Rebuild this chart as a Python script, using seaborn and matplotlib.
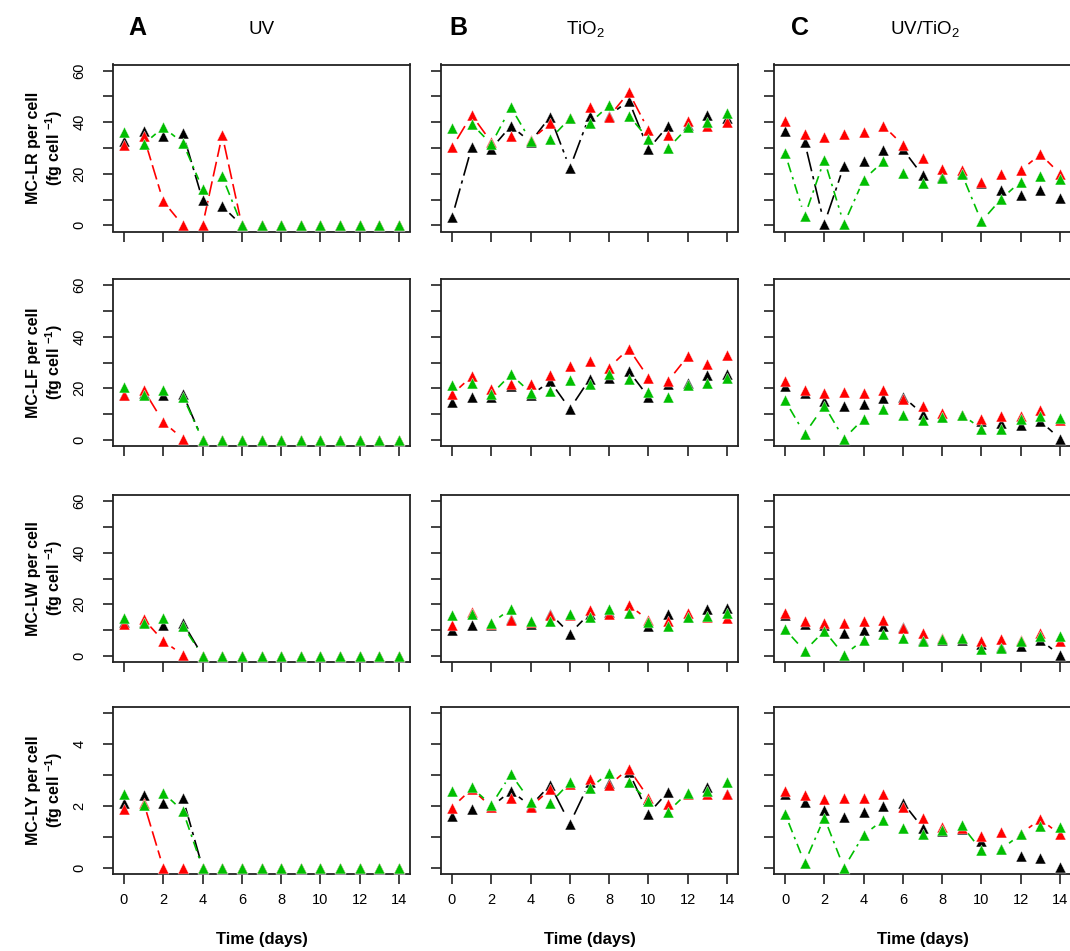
import numpy as np
import matplotlib
matplotlib.use("Agg")
import matplotlib.pyplot as plt
import seaborn as sns
import pandas as pd

# ---------------- data ----------------
days = list(range(15))
treatments = ["UV", "TiO$_2$", "UV/TiO$_2$"]
panel_letters = ["A", "B", "C"]
toxins = ["MC-LR", "MC-LF", "MC-LW", "MC-LY"]

# MC-LR
lr_uv_black = [32.8, 36.6, 34.5, 35.7, 9.9, 7.4, 0, 0, 0, 0, 0, 0, 0, 0, 0]
lr_uv_red = [31.0, 34.5, 9.3, 0, 0, 35.0, 0, 0, 0, 0, 0, 0, 0, 0, 0]
lr_uv_green = [36.4, 31.5, 38.0, 32.0, 14.2, 19.0, 0, 0, 0, 0, 0, 0, 0, 0, 0]
lr_tio2_black = [3.1, 30.2, 29.7, 38.6, 32.3, 42.2, 22.2, 42.5, 42.6, 48.4, 29.5, 38.7, 39.0, 42.8, 41.5]
lr_tio2_red = [30.2, 42.8, 32.3, 34.7, 33.0, 39.6, 41.5, 45.8, 42.2, 51.6, 37.0, 35.0, 40.3, 38.7, 40.0]
lr_tio2_green = [37.7, 39.4, 31.5, 45.8, 32.8, 33.5, 41.5, 39.6, 46.5, 42.6, 33.5, 29.9, 38.0, 39.9, 43.5]
lr_uvtio2_black = [36.6, 32.3, 0.6, 23.1, 24.8, 29.3, 29.5, 19.4, 18.6, 20.3, 16.4, 13.8, 11.9, 13.8, 10.6]
lr_uvtio2_red = [40.6, 35.4, 34.1, 35.5, 36.1, 38.7, 31.2, 26.1, 21.9, 21.3, 16.8, 20.0, 21.3, 27.6, 20.0]
lr_uvtio2_green = [28.0, 3.5, 25.4, 0.5, 17.7, 24.8, 20.3, 16.6, 18.3, 20.0, 1.5, 10.2, 17.0, 19.0, 17.9]

# MC-LF
lf_uv_black = [17.5, 18.0, 17.2, 17.7, 0, 0, 0, 0, 0, 0, 0, 0, 0, 0, 0]
lf_uv_red = [17.5, 19.4, 6.9, 0.4, 0, 0, 0, 0, 0, 0, 0, 0, 0, 0, 0]
lf_uv_green = [20.5, 17.2, 19.4, 16.8, 0, 0, 0, 0, 0, 0, 0, 0, 0, 0, 0]
lf_tio2_black = [14.6, 16.8, 16.6, 21.0, 17.2, 22.7, 12.0, 23.5, 24.1, 26.7, 16.6, 21.5, 22.0, 25.0, 25.4]
lf_tio2_red = [17.6, 24.6, 19.8, 21.5, 21.5, 25.0, 28.5, 30.6, 28.0, 35.4, 24.1, 22.8, 32.4, 29.5, 33.0]
lf_tio2_green = [21.1, 22.0, 17.6, 25.4, 18.3, 18.9, 23.1, 21.5, 25.7, 23.7, 18.5, 16.6, 21.1, 22.0, 24.0]
lf_uvtio2_black = [20.7, 18.1, 15.0, 13.3, 14.0, 16.2, 16.8, 10.1, 8.8, 9.8, 7.3, 6.5, 5.6, 7.3, 0.4]
lf_uvtio2_red = [22.7, 19.2, 18.1, 18.5, 18.3, 19.4, 15.9, 13.0, 10.4, 9.8, 8.2, 9.2, 9.1, 11.7, 7.5]
lf_uvtio2_green = [15.3, 2.3, 13.3, 0.4, 8.2, 12.0, 9.5, 7.8, 8.8, 9.8, 4.3, 4.3, 8.2, 9.2, 8.6]

# MC-LW
lw_uv_black = [13.0, 13.0, 11.9, 12.9, 0, 0, 0, 0, 0, 0, 0, 0, 0, 0, 0]
lw_uv_red = [12.3, 14.2, 5.8, 0.3, 0, 0, 0, 0, 0, 0, 0, 0, 0, 0, 0]
lw_uv_green = [14.8, 12.6, 14.5, 11.6, 0, 0, 0, 0, 0, 0, 0, 0, 0, 0, 0]
lw_tio2_black = [10.1, 11.9, 11.9, 14.2, 12.5, 16.4, 8.6, 16.4, 17.0, 16.5, 11.6, 16.1, 15.0, 18.3, 18.5]
lw_tio2_red = [11.9, 17.0, 12.5, 13.9, 13.0, 15.9, 16.0, 17.8, 16.4, 19.7, 13.9, 13.5, 16.5, 15.2, 14.6]
lw_tio2_green = [15.7, 16.1, 12.6, 18.3, 13.5, 13.5, 16.4, 15.1, 18.1, 16.5, 13.2, 11.6, 15.1, 15.5, 16.8]
lw_uvtio2_black = [15.7, 12.3, 12.0, 9.0, 9.9, 11.4, 11.0, 6.2, 6.1, 6.3, 4.5, 3.6, 3.9, 6.1, 0.3]
lw_uvtio2_red = [16.5, 13.5, 12.9, 12.9, 13.5, 13.8, 10.7, 9.0, 7.1, 7.0, 5.8, 6.5, 6.2, 9.0, 5.8]
lw_uvtio2_green = [10.3, 1.9, 9.7, 0.3, 6.2, 8.6, 7.1, 5.8, 6.5, 7.0, 2.6, 3.0, 5.8, 7.5, 7.5]

# MC-LY
ly_uv_black = [2.08, 2.34, 2.11, 2.25, 0, 0, 0, 0, 0, 0, 0, 0, 0, 0, 0]
ly_uv_red = [1.89, 2.11, 0, 0, 0, 0, 0, 0, 0, 0, 0, 0, 0, 0, 0]
ly_uv_green = [2.40, 2.03, 2.42, 1.84, 0, 0, 0, 0, 0, 0, 0, 0, 0, 0, 0]
ly_tio2_black = [1.68, 1.89, 1.97, 2.49, 2.00, 2.68, 1.43, 2.76, 2.75, 3.10, 1.75, 2.46, 2.40, 2.62, 2.40]
ly_tio2_red = [1.95, 2.55, 1.97, 2.27, 1.97, 2.54, 2.70, 2.87, 2.67, 3.21, 2.27, 2.06, 2.40, 2.38, 2.38]
ly_tio2_green = [2.49, 2.60, 2.03, 3.03, 2.14, 2.09, 2.76, 2.58, 3.06, 2.76, 2.16, 1.82, 2.43, 2.47, 2.78]
ly_uvtio2_black = [2.38, 2.13, 1.86, 1.65, 1.81, 2.00, 2.11, 1.30, 1.19, 1.25, 0.87, 0.60, 0.38, 0.32, 0.02]
ly_uvtio2_red = [2.49, 2.36, 2.22, 2.27, 2.27, 2.40, 1.97, 1.60, 1.32, 1.30, 1.03, 1.17, 1.10, 1.57, 1.08]
ly_uvtio2_green = [1.75, 0.16, 1.62, 0.00, 1.06, 1.55, 1.28, 1.08, 1.21, 1.37, 0.56, 0.60, 1.08, 1.35, 1.32]

panels = [
    [(lr_uv_black, lr_uv_red, lr_uv_green),
     (lr_tio2_black, lr_tio2_red, lr_tio2_green),
     (lr_uvtio2_black, lr_uvtio2_red, lr_uvtio2_green)],
    [(lf_uv_black, lf_uv_red, lf_uv_green),
     (lf_tio2_black, lf_tio2_red, lf_tio2_green),
     (lf_uvtio2_black, lf_uvtio2_red, lf_uvtio2_green)],
    [(lw_uv_black, lw_uv_red, lw_uv_green),
     (lw_tio2_black, lw_tio2_red, lw_tio2_green),
     (lw_uvtio2_black, lw_uvtio2_red, lw_uvtio2_green)],
    [(ly_uv_black, ly_uv_red, ly_uv_green),
     (ly_tio2_black, ly_tio2_red, ly_tio2_green),
     (ly_uvtio2_black, ly_uvtio2_red, ly_uvtio2_green)],
]
y_max = [60, 60, 60, 5]

# ---------------- style ----------------
sns.set_style("ticks")
plt.rcParams['font.family'] = ['Liberation Sans', 'DejaVu Sans']
plt.rcParams['mathtext.fontset'] = 'custom'
plt.rcParams['mathtext.rm'] = 'Liberation Sans'
plt.rcParams['mathtext.it'] = 'Liberation Sans:italic'
plt.rcParams['mathtext.bf'] = 'Liberation Sans:bold'
for k in ['text.color', 'axes.labelcolor', 'xtick.color', 'ytick.color', 'axes.edgecolor']:
    plt.rcParams[k] = 'black'

colors = ["#000000", "#FF0000", "#00BE00"]
dash_styles = [(12, 3, 2, 3), (9, 3), (6, 3, 1.5, 3)]

W, H = 1070, 951
fig = plt.figure(figsize=(W / 100, H / 100), dpi=100)
lefts_px = [113, 441, 774]
tops_px = [64.5, 279, 495, 707]
w_px, h_px = 297, 167
GAP = 10.0


def draw_series(ax, x, y, color, dashes):
    pts = ax.transData.transform(np.column_stack([x, y]))
    inv = ax.transData.inverted()
    for i in range(len(x) - 1):
        p0, p1 = pts[i], pts[i + 1]
        d = p1 - p0
        L = np.hypot(d[0], d[1])
        if L - 2 * GAP < 4:
            continue
        u = d / L
        seg = inv.transform(np.array([p0 + u * GAP, p1 - u * GAP]))
        ax.plot(seg[:, 0], seg[:, 1], color=color, lw=1.2, dashes=dashes,
                solid_capstyle='butt', dash_capstyle='butt', zorder=2)
    df = pd.DataFrame({"day": x, "val": y})
    sns.scatterplot(data=df, x="day", y="val", marker="^", s=62, color=color,
                    edgecolor=(1, 1, 1, 0.6), linewidth=0.5, ax=ax, zorder=3,
                    legend=False)


for r in range(4):
    for c in range(3):
        left = lefts_px[c] / W
        bottom = 1 - (tops_px[r] + h_px) / H
        ax = fig.add_axes([left, bottom, w_px / W, h_px / H])
        ym = y_max[r]
        ax.set_xlim(-0.56, 14.56)
        ax.set_ylim(-0.04 * ym, ym * 1.04)
        for series, col, ds in zip(panels[r][c], colors, dash_styles):
            draw_series(ax, days, series, col, ds)
        ax.set_xticks(range(0, 15, 2))
        if ym == 60:
            ax.set_yticks(range(0, 61, 10))
            ylabels = [str(v) if v % 20 == 0 else "" for v in range(0, 61, 10)]
        else:
            ax.set_yticks(range(0, 6))
            ylabels = [str(v) if v % 2 == 0 else "" for v in range(0, 6)]
        if c == 0:
            ax.set_yticklabels(ylabels, rotation=90, va='center', fontsize=10.5)
            ax.set_ylabel(f"{toxins[r]} per cell\n(fg cell $\\mathbf{{^{{-1}}}}$)",
                          fontsize=11.5, fontweight='bold', linespacing=1.15)
            ax.yaxis.set_label_coords(-0.16, 0.5)
        else:
            ax.set_yticklabels([])
            ax.set_ylabel("")
        if r == 3:
            ax.set_xticklabels([str(v) for v in range(0, 15, 2)], fontsize=10.5)
            ax.set_xlabel("Time (days)", fontsize=12, fontweight='bold', labelpad=18)
        else:
            ax.set_xticklabels([])
            ax.set_xlabel("")
        ax.tick_params(axis='both', direction='out', length=7, width=1.2,
                       color='#222222', pad=5)
        ax.tick_params(axis='y', pad=12)
        ax.tick_params(axis='x', pad=7)
        for sp in ax.spines.values():
            sp.set_visible(True)
            sp.set_linewidth(1.3)
            sp.set_color('#222222')

# headings
letter_x = [137, 458, 800]
title_x = [262, 585, 925]
for c in range(3):
    fig.text(letter_x[c] / W, 1 - 28 / H, panel_letters[c], fontsize=18,
             fontweight='bold', ha='center', va='center')
    fig.text(title_x[c] / W, 1 - 29 / H, treatments[c], fontsize=13.5,
             ha='center', va='center')

fig.savefig("out.png", dpi=100)
